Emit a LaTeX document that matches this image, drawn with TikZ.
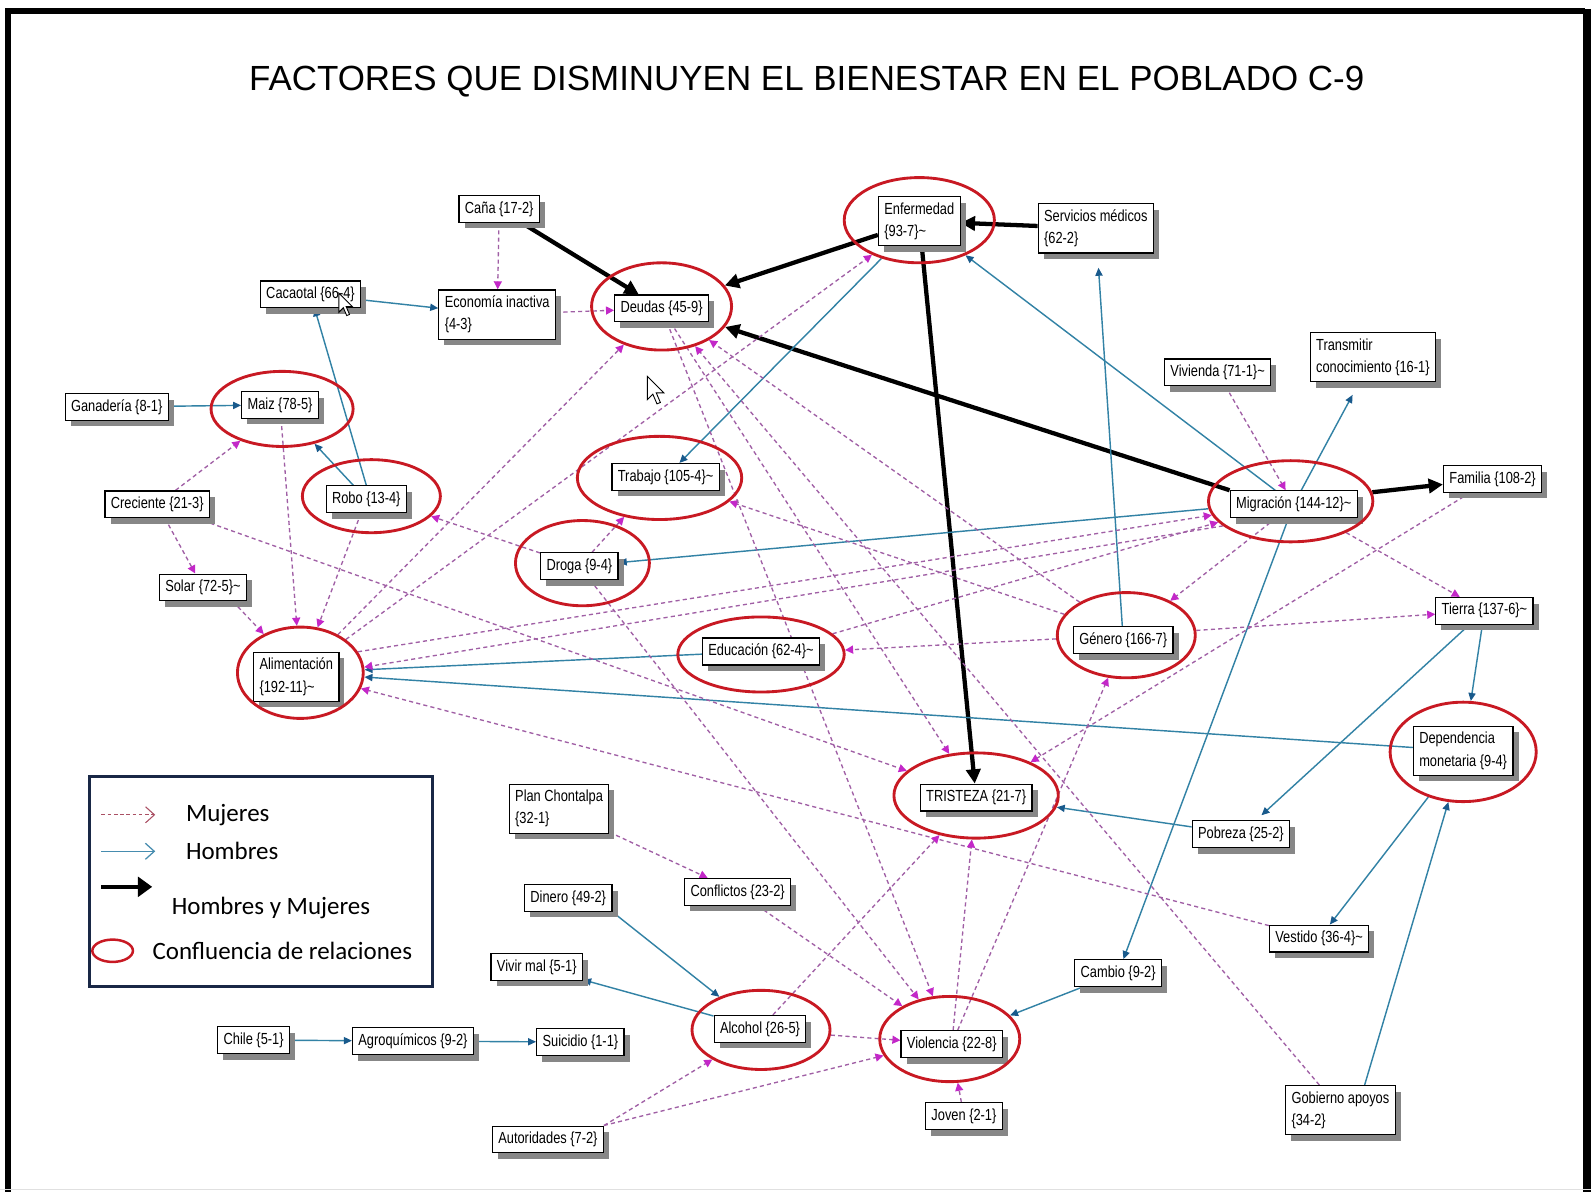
\documentclass[tikz,border=0pt]{standalone}
\usepackage{fontspec}
\usetikzlibrary{arrows.meta,shapes.geometric,shadows}
\newfontfamily\boxfont{Liberation Sans}[FakeStretch=0.8]
\newfontfamily\legfont{Carlito}
\newfontfamily\titlefont{Liberation Sans}
\pgfdeclarelayer{bottom}
\pgfdeclarelayer{background}
\pgfsetlayers{bottom,background,main}
\definecolor{dashcol}{RGB}{160,95,165}
\definecolor{tipmag}{RGB}{195,40,200}
\definecolor{tealcol}{RGB}{50,130,165}
\definecolor{tipblue}{RGB}{25,90,140}
\definecolor{ringred}{RGB}{200,25,35}
\definecolor{shadowgray}{RGB}{135,135,135}
\definecolor{legnavy}{RGB}{25,40,70}
\definecolor{legbrown}{RGB}{170,80,100}
\definecolor{legteal}{RGB}{70,140,175}
\tikzset{
  box/.style={draw=black, line width=0.7pt, fill=white, inner sep=3.3pt,
    font=\boxfont\fontsize{9}{12.5}\selectfont, align=left,
    drop shadow={shadow xshift=0.11cm, shadow yshift=-0.12cm, fill=shadowgray, opacity=1}},
  ring/.style 2 args={ellipse, draw=ringred, line width=1.6pt, inner sep=0pt,
    minimum width={2*#1*0.02cm}, minimum height={2*#2*0.02cm}},
  wom/.style={draw=dashcol, line width=0.75pt, dash pattern=on 2.3pt off 1.8pt,
    -{Triangle[length=4.5pt,width=4.5pt,color=tipmag,fill=tipmag]}},
  men/.style={draw=tealcol, line width=0.8pt,
    -{Triangle[length=4.5pt,width=4pt,color=tipblue,fill=tipblue]}},
  both/.style={draw=black, line width=2.4pt, -{Triangle[length=8pt,width=8pt]}},
  legwom/.style={draw=legbrown, line width=0.6pt, dash pattern=on 2pt off 1.5pt,
    -{Straight Barb[length=5pt,width=9pt]}},
  legmen/.style={draw=legteal, line width=0.7pt, -{Straight Barb[length=5pt,width=9pt]}},
  legboth/.style={draw=black, line width=2.5pt, -{Triangle[length=8pt,width=11pt]}},
  legtext/.style={font=\legfont\fontsize{14}{16}\selectfont, anchor=west, inner sep=0pt},
  cursorshape/.style={draw=black, fill=white, line width=0.5pt, line join=miter}
}
\begin{document}
\begin{tikzpicture}[x=0.02cm, y=-0.02cm]
\useasboundingbox (0,0) rectangle (1568,1174);
\begin{pgfonlayer}{bottom}
\fill[white] (0,0) rectangle (1568,1174);
\end{pgfonlayer}
% frame
\draw[line width=3.4pt] (8,1180) -- (8,11) -- (1562,11);
\draw[line width=4.5pt] (1564,9) -- (1564,1180);
\draw[line width=0.8pt, black!12] (0,1172) -- (1568,1172);

% title
\node[font=\titlefont\fontsize{19.6}{23}\selectfont] (title) at (795,80)
  {FACTORES QUE DISMINUYEN EL BIENESTAR EN EL POBLADO C-9};

% boxes
\node[box] (Cana) at (492,206) {Caña \{17-2\}};
\node[box] (EconInact) at (490,310) {Economía inactiva\\\{4-3\}};
\node[box] (Cacaotal) at (306,290) {Cacaotal \{66-4\}};
\node[box] (Deudas) at (652,304) {Deudas \{45-9\}};
\node[box] (Enfermedad) at (906,218) {Enfermedad\\\{93-7\}\textasciitilde};
\node[box] (Servicios) at (1080,225) {Servicios médicos\\\{62-2\}};
\node[box] (Transmitir) at (1353,352) {Transmitir\\conocimiento \{16-1\}};
\node[box] (Vivienda) at (1200,367) {Vivienda \{71-1\}\textasciitilde};
\node[box] (Ganaderia) at (115,401) {Ganadería \{8-1\}};
\node[box] (Maiz) at (276,399) {Maiz \{78-5\}};
\node[box] (Trabajo) at (656,470) {Trabajo \{105-4\}\textasciitilde};
\node[box] (Robo) at (361,492) {Robo \{13-4\}};
\node[box] (Creciente) at (155,497) {Creciente \{21-3\}};
\node[box] (Migracion) at (1275,497) {Migración \{144-12\}\textasciitilde};
\node[box] (Familia) at (1471,472) {Familia \{108-2\}};
\node[box] (Droga) at (571,558) {Droga \{9-4\}};
\node[box] (Solar) at (200,579) {Solar \{72-5\}\textasciitilde};
\node[box] (Alimentacion) at (292,667) {Alimentación\\\{192-11\}\textasciitilde};
\node[box] (Educacion) at (750,642) {Educación \{62-4\}\textasciitilde};
\node[box] (Genero) at (1107,631) {Género \{166-7\}};
\node[box] (Tierra) at (1463,602) {Tierra \{137-6\}\textasciitilde};
\node[box] (Dependencia) at (1442,740) {Dependencia\\monetaria \{9-4\}};
\node[box] (Tristeza) at (962,786) {TRISTEZA \{21-7\}};
\node[box] (Pobreza) at (1223,822) {Pobreza \{25-2\}};
\node[box] (Plan) at (551,797) {Plan Chontalpa\\\{32-1\}};
\node[box] (Conflictos) at (727,879) {Conflictos \{23-2\}};
\node[box] (Dinero) at (560,885) {Dinero \{49-2\}};
\node[box] (Vestido) at (1300,925) {Vestido \{36-4\}\textasciitilde};
\node[box] (Cambio) at (1102,959) {Cambio \{9-2\}};
\node[box] (VivirMal) at (529,953) {Vivir mal \{5-1\}};
\node[box] (Alcohol) at (749,1014) {Alcohol \{26-5\}};
\node[box] (Violencia) at (938,1029) {Violencia \{22-8\}};
\node[box] (Chile) at (250,1025) {Chile \{5-1\}};
\node[box] (Agro) at (407,1026) {Agroquímicos \{9-2\}};
\node[box] (Suicidio) at (572,1027) {Suicidio \{1-1\}};
\node[box] (Joven) at (950,1100) {Joven \{2-1\}};
\node[box] (Autoridades) at (540,1123) {Autoridades \{7-2\}};
\node[box] (Gobierno) at (1321,1094) {Gobierno apoyos\\\{34-2\}};

% confluence rings
\node[ring={69}{43}] (rDeudas) at (652,302) {};
\node[ring={74}{42}] (rEnfermedad) at (906,217) {};
\node[ring={70}{37}] (rMaiz) at (278,403) {};
\node[ring={81}{41}] (rTrabajo) at (650,471) {};
\node[ring={68}{36}] (rRobo) at (366,489) {};
\node[ring={81}{40}] (rMigracion) at (1272,494) {};
\node[ring={66}{42}] (rDroga) at (574,555) {};
\node[ring={62}{45}] (rAlimentacion) at (296,663) {};
\node[ring={82}{37}] (rEducacion) at (750,645) {};
\node[ring={68}{42}] (rGenero) at (1110,626) {};
\node[ring={72}{49}] (rDependencia) at (1442,741) {};
\node[ring={81}{42}] (rTristeza) at (962,784) {};
\node[ring={68}{39}] (rAlcohol) at (750,1015) {};
\node[ring={69}{42}] (rViolencia) at (936,1024) {};

% connectors
\begin{pgfonlayer}{background}
% hombres y mujeres
\draw[both] (Cana) -- (Deudas);
\draw[both] (Enfermedad) -- (rDeudas);
\draw[both] (Servicios) -- (Enfermedad);
\draw[both] (Enfermedad) -- (Tristeza);
\draw[both] (Migracion.north west) -- (rDeudas);
\draw[both] (rMigracion) -- (Familia);
% hombres
\draw[men] (Cacaotal) -- (EconInact);
\draw[men] (Ganaderia) -- (Maiz);
\draw[men] (Robo) -- (rMaiz);
\draw[men] (Robo.north) -- (Cacaotal);
\draw[men] (rEnfermedad) -- (Trabajo);
\draw[men] (Migracion) -- (rEnfermedad);
\draw[men, shorten >=8pt] (Genero) -- (Servicios);
\draw[men, shorten >=8pt] (Migracion) -- (Transmitir);
\draw[men] (rMigracion) -- (Droga);
\draw[men] (Migracion) -- (Cambio);
\draw[men] (Educacion) -- (rAlimentacion);
\draw[men] (Dependencia) -- (rAlimentacion);
\draw[men] (Tierra) -- (rDependencia);
\draw[men, shorten >=4pt] (Tierra) -- (Pobreza);
\draw[men] (Pobreza) -- (rTristeza);
\draw[men] (rDependencia) -- (Vestido);
\draw[men] (Gobierno.46) -- (rDependencia);
\draw[men] (Dinero.south east) -- (rAlcohol);
\draw[men] (Alcohol) -- (VivirMal);
\draw[men] (Chile) -- (Agro);
\draw[men] (Agro) -- (Suicidio);
\draw[men] (Cambio) -- (rViolencia);
% mujeres
\draw[wom] (Cana) -- (EconInact);
\draw[wom] (EconInact) -- (Deudas);
\draw[wom] (Vivienda) -- (Migracion);
\draw[wom] (Creciente) -- (rMaiz);
\draw[wom] (Creciente) -- (Solar);
\draw[wom] (Creciente) -- (rTristeza);
\draw[wom] (Maiz) -- (rAlimentacion);
\draw[wom] (Robo) -- (rAlimentacion);
\draw[wom] (Solar.-25) -- (rAlimentacion);
\draw[wom] (Droga) -- (rRobo);
\draw[wom] (Droga) -- (rTrabajo);
\draw[wom] (rAlimentacion) -- (rDeudas);
\draw[wom] (rAlimentacion) -- (rEnfermedad);
\draw[wom] (rAlimentacion.20) -- (rMigracion.190);
\draw[wom] (rMigracion.200) -- (rAlimentacion.5);
\draw[wom] (Vestido) -- (rAlimentacion);
\draw[wom] (rEducacion) -- (rMigracion);
\draw[wom] (rGenero) -- (rEducacion);
\draw[wom] (rGenero) -- (Tierra);
\draw[wom] (rMigracion) -- (Tierra);
\draw[wom] (Migracion) -- (rGenero);
\draw[wom] (rGenero) -- (rTrabajo);
\draw[wom] (rGenero) -- (rDeudas);
\draw[wom] (Gobierno) -- (rDeudas);
\draw[wom] (Deudas) -- (rTristeza);
\draw[wom] (Deudas) -- (rViolencia);
\draw[wom] (Droga) -- (rViolencia);
\draw[wom] (Conflictos) -- (rViolencia);
\draw[wom] (Plan) -- (Conflictos);
\draw[wom] (rAlcohol) -- (Violencia);
\draw[wom] (Alcohol) -- (rTristeza);
\draw[wom] (Violencia) -- (rTristeza);
\draw[wom] (Violencia) -- (rGenero);
\draw[wom] (Autoridades.north east) -- (rAlcohol);
\draw[wom] (Autoridades) -- (rViolencia);
\draw[wom] (Joven) -- (rViolencia);
\draw[wom] (Familia) -- (rTristeza);
\end{pgfonlayer}

% legend
\node[draw=legnavy, line width=1.8pt, fill=white, inner sep=0pt,
  minimum width=6.76cm, minimum height=4.14cm] (legend) at (257,868.5) {};
\coordinate (lmA) at (100,803); \coordinate (lmB) at (153,803);
\draw[legwom] (lmA) -- (lmB);
\node[legtext] (ltM) at (183,803) {Mujeres};
\coordinate (lhA) at (100,839); \coordinate (lhB) at (153,839);
\draw[legmen] (lhA) -- (lhB);
\node[legtext] (ltH) at (183,839) {Hombres};
\coordinate (lbA) at (100,874); \coordinate (lbB) at (150,874);
\draw[legboth] (lbA) -- (lbB);
\node[legtext] (ltB) at (169,895) {Hombres y Mujeres};
\node[ring={20}{11}, line width=1.4pt] (lring) at (111,937) {};
\node[legtext] (ltC) at (150,937) {Confluencia de relaciones};

% mouse pointers
\draw[cursorshape, shift={(334,289)}, scale=1.1] (0,0) -- (0,17) -- (4,13) -- (7,20) -- (9.5,19) -- (6.5,12) -- (12,12) -- cycle;
\draw[cursorshape, shift={(638,371)}, scale=1.35] (0,0) -- (0,17) -- (4,13) -- (7,20) -- (9.5,19) -- (6.5,12) -- (12,12) -- cycle;
\end{tikzpicture}
\end{document}
